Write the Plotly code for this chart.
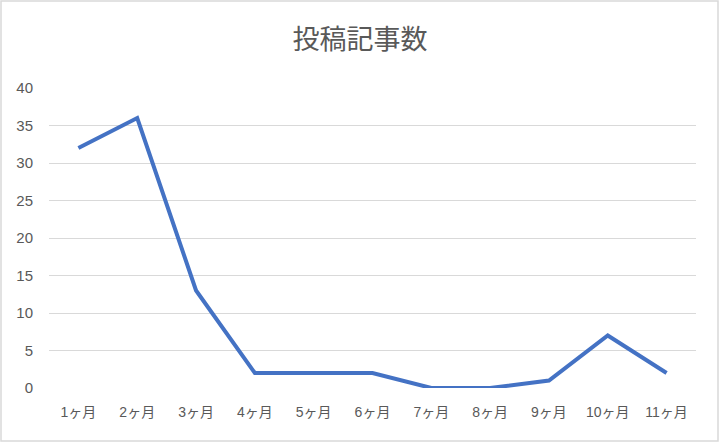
import plotly.graph_objects as go

categories = ["1ヶ月", "2ヶ月", "3ヶ月", "4ヶ月", "5ヶ月", "6ヶ月", "7ヶ月", "8ヶ月", "9ヶ月", "10ヶ月", "11ヶ月"]
posts = [32, 36, 13, 2, 2, 2, 0, 0, 1, 7, 2]
y_ticks = [0, 5, 10, 15, 20, 25, 30, 35, 40]

W, H = 720, 444
L, R, T, B = 49, 24, 88, 56
pw, ph = W - L - R, H - T - B
FONT = "Liberation Sans, Noto Sans CJK JP"

fig = go.Figure(go.Scatter(
    x=list(range(len(categories))), y=posts, mode="lines",
    line=dict(color="#4472C4", width=4), hoverinfo="skip"))

fig.update_layout(
    width=W, height=H, margin=dict(l=L, r=R, t=T, b=B, autoexpand=False),
    paper_bgcolor="white", plot_bgcolor="white", showlegend=False,
    font=dict(family=FONT, color="#595959"),
    title=dict(text="投稿記事数", x=0.5, xanchor="center", y=1 - 40 / H, yanchor="middle",
               font=dict(size=27, color="#595959", family="Noto Sans CJK JP")),
    xaxis=dict(range=[-0.5, len(categories) - 0.5], tickmode="array",
               tickvals=list(range(len(categories))), ticktext=categories,
               showgrid=False, zeroline=False, showline=False, ticks="",
               automargin=False,
               tickfont=dict(size=14, color="#595959", family=FONT), ticklabelstandoff=14),
    yaxis=dict(range=[0, 40], tickmode="array", tickvals=y_ticks,
               showgrid=True, gridcolor="#D9D9D9", gridwidth=1, zeroline=False,
               showline=False, ticks="", automargin=False,
               tickfont=dict(size=15, color="#595959", family=FONT),
               ticklabelstandoff=15),
)
fig.add_shape(type="rect", xref="paper", yref="paper",
              x0=(1 - L) / pw, x1=(718 - L) / pw,
              y0=(H - B - 441) / ph, y1=(H - B - 1) / ph,
              line=dict(color="#D9D9D9", width=1.5), layer="below")
fig.write_html("out.html", config={"displayModeBar": False},
               post_script="document.body.style.margin='0';document.body.style.overflow='hidden';")
